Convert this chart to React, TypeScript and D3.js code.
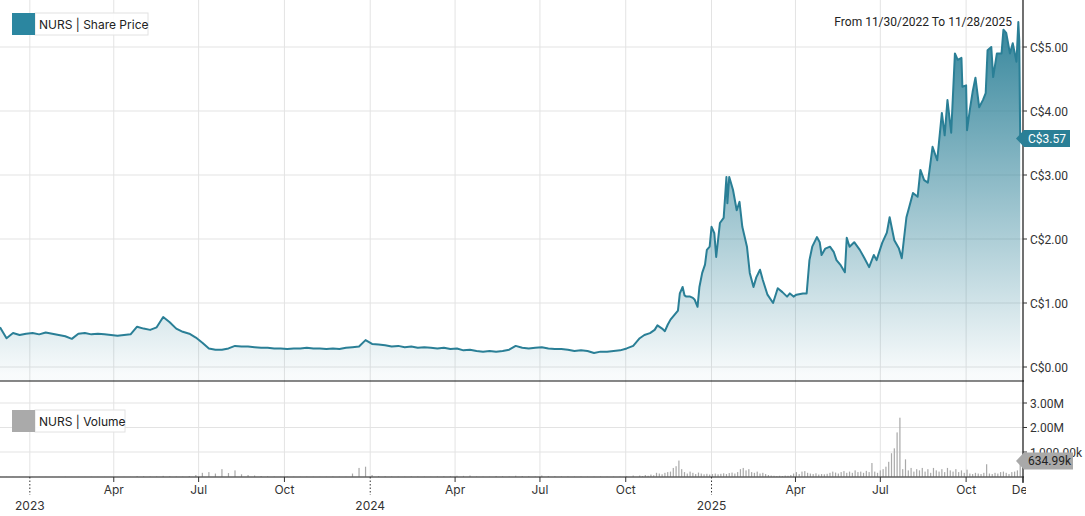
import React from 'react';
import * as d3 from 'd3';

const W = 1085;
const H = 516;

const rangeLabel = 'From 11/30/2022 To 11/28/2025';
const priceLegend = 'NURS | Share Price';
const volumeLegend = 'NURS | Volume';
const lastPriceLabel = 'C$3.57';
const lastPrice = 3.57;
const lastVolumeLabel = '634.99k';
const lastVolumeK = 634.99;

const domainStart = '2022-11-30';
const domainEnd = '2025-12-01';

// weekly closes from 2022-11-30 to 2024-10-09
const weeklyStart = '2022-11-30';
const weeklyPrices = [
  0.62, 0.45, 0.53, 0.5, 0.52, 0.53, 0.51, 0.54, 0.52, 0.5, 0.48, 0.44, 0.52, 0.53, 0.51, 0.52,
  0.51, 0.5, 0.49, 0.5, 0.51, 0.63, 0.6, 0.58, 0.62, 0.78, 0.7, 0.6, 0.55, 0.52, 0.46, 0.38,
  0.29, 0.27, 0.27, 0.29, 0.33, 0.32, 0.32, 0.31, 0.3, 0.3, 0.29, 0.29, 0.28, 0.29, 0.29, 0.3,
  0.29, 0.29, 0.28, 0.29, 0.28, 0.3, 0.31, 0.32, 0.42, 0.36, 0.35, 0.34, 0.32, 0.33, 0.31, 0.32,
  0.3, 0.31, 0.3, 0.29, 0.3, 0.28, 0.29, 0.26, 0.27, 0.25, 0.24, 0.25, 0.24, 0.25, 0.27, 0.33,
  0.3, 0.29, 0.3, 0.31, 0.29, 0.28, 0.28, 0.27, 0.25, 0.26, 0.25, 0.22, 0.24, 0.24, 0.25, 0.26,
  0.29, 0.33,
];

const recentPriceDates = [
  '2024-10-16', '2024-10-21', '2024-10-27', '2024-11-01', '2024-11-04', '2024-11-09', '2024-11-12', '2024-11-15',
  '2024-11-18', '2024-11-22', '2024-11-26', '2024-11-28', '2024-12-01', '2024-12-03', '2024-12-05', '2024-12-09',
  '2024-12-12', '2024-12-14', '2024-12-17', '2024-12-19', '2024-12-22', '2024-12-25', '2024-12-27', '2024-12-30',
  '2025-01-01', '2025-01-04', '2025-01-06', '2025-01-10', '2025-01-14', '2025-01-17', '2025-01-18', '2025-01-20',
  '2025-01-24', '2025-01-28', '2025-01-31', '2025-02-03', '2025-02-08', '2025-02-11', '2025-02-15', '2025-02-18',
  '2025-02-22', '2025-02-25', '2025-03-02', '2025-03-08', '2025-03-13', '2025-03-18', '2025-03-23', '2025-03-26',
  '2025-03-30', '2025-04-02', '2025-04-09', '2025-04-13', '2025-04-16', '2025-04-19', '2025-04-24', '2025-04-27',
  '2025-04-29', '2025-05-03', '2025-05-08', '2025-05-12', '2025-05-15', '2025-05-19', '2025-05-24', '2025-05-26',
  '2025-05-29', '2025-06-03', '2025-06-09', '2025-06-14', '2025-06-19', '2025-06-24', '2025-06-27', '2025-07-03',
  '2025-07-08', '2025-07-11', '2025-07-16', '2025-07-21', '2025-07-24', '2025-07-29', '2025-08-01', '2025-08-05',
  '2025-08-10', '2025-08-13', '2025-08-17', '2025-08-21', '2025-08-26', '2025-08-31', '2025-09-05', '2025-09-08',
  '2025-09-11', '2025-09-15', '2025-09-19', '2025-09-22', '2025-09-26', '2025-09-27', '2025-10-01', '2025-10-02',
  '2025-10-05', '2025-10-08', '2025-10-11', '2025-10-15', '2025-10-19', '2025-10-22', '2025-10-24', '2025-10-28',
  '2025-10-30', '2025-11-03', '2025-11-08', '2025-11-10', '2025-11-13', '2025-11-17', '2025-11-20', '2025-11-24',
  '2025-11-26', '2025-11-27', '2025-11-28',
];
const recentPrices = [
  0.45, 0.5, 0.53, 0.58, 0.65, 0.6, 0.56, 0.66,
  0.74, 0.81, 0.88, 1.15, 1.25, 1.12, 1.1, 1.1,
  1.08, 1.05, 0.94, 1.25, 1.47, 1.6, 1.83, 1.88,
  2.19, 2.09, 1.72, 2.25, 2.33, 2.97, 2.56, 2.97,
  2.77, 2.45, 2.58, 2.19, 1.88, 1.47, 1.25, 1.4,
  1.52, 1.36, 1.13, 1.0, 1.23, 1.17, 1.1, 1.15,
  1.1, 1.13, 1.15, 1.15, 1.67, 1.88, 2.03, 1.95,
  1.75, 1.85, 1.88, 1.8, 1.67, 1.6, 1.48, 2.02,
  1.88, 1.95, 1.83, 1.7, 1.56, 1.75, 1.67, 1.94,
  2.1, 2.34, 1.98, 1.85, 1.7, 2.34, 2.5, 2.72,
  2.66, 3.08, 2.92, 2.88, 3.44, 3.23, 3.97, 3.62,
  4.17, 3.66, 4.9, 4.8, 4.83, 4.38, 4.4, 3.7,
  4.02, 4.3, 4.52, 4.06, 4.17, 4.28, 4.95, 5.0,
  4.53, 4.9, 4.9, 5.27, 5.22, 4.9, 5.06, 4.77,
  5.39, 5.1, 3.57,
];

// volume in thousands, weekly from 2022-11-30
const weeklyVolumesK = [
  5, 3, 4, 2, 3, 2, 4, 3, 2, 3, 5, 2, 3, 2, 4, 3, 2, 3, 2, 4, 3, 20, 15, 10,
  12, 25, 15, 10, 8, 20, 60, 150,
  180, 120, 300, 140, 250, 90, 60,
  40, 20, 15, 10, 8, 12, 6,
  5, 8, 6, 4, 5, 10, 6, 5,
  120, 350, 400, 60,
  20, 15, 10, 8, 6, 12, 10, 8, 6, 10, 15, 20, 30,
  25, 40, 10, 8, 6, 20, 15, 10, 30, 20,
  15, 10, 40, 20, 15, 10, 12, 8, 10, 6, 8, 10, 6, 8, 10, 20, 40,
];
// volume in thousands, every 3 days from 2024-10-16
const recentVolumeStart = '2024-10-16';
const recentVolumesK = [
  40, 20, 60, 30, 80, 50, 150, 120, 90, 150, 180, 200, 350, 420, 650, 300, 180, 120, 200, 150,
  100, 160, 120, 90, 110, 80, 100, 120, 90, 110, 130, 100, 140, 160, 120, 180, 300, 350, 250, 300,
  180, 150, 200, 120, 150, 100, 60, 40, 30, 20, 30, 20, 40, 30, 60, 120, 180, 100, 200, 220,
  150, 120, 100, 130, 80, 100, 90, 110, 150, 200, 160, 120, 180, 220, 150, 200, 150, 250, 180, 200,
  150, 230, 180, 550, 200, 150, 250, 300, 400, 600, 950, 1150, 1800, 2400, 300, 700, 250, 350, 200, 300,
  250, 350, 200, 300, 150, 350, 250, 200, 300, 180, 350, 250, 200, 300, 180, 250, 150, 280, 120, 100,
  150, 120, 100, 150, 500, 120, 100, 150, 120, 180, 200, 150, 100, 180, 200, 250, 635,
];

const priceTicks = [0, 1, 2, 3, 4, 5];
const volumeTicksM = [1, 2, 3];
const volumeTickLabels = ['1,000.00k', '2.00M', '3.00M'];
const quarterMonths = ['Apr', 'Jul', 'Oct'];

const parse = d3.utcParse('%Y-%m-%d');

const TEAL = '#2a7f96';

export default function App() {
  const plotRight = 1023;
  const priceTop = 0;
  const priceBottom = 381;
  const volBottom = 477;

  const x = d3.scaleTime().domain([parse(domainStart)!, parse(domainEnd)!]).range([0, plotRight]);
  const y = d3.scaleLinear().domain([0, 5]).range([367, 47]);
  const yv = d3.scaleLinear().domain([0, 3]).range([476.5, 403]);

  const wStart = parse(weeklyStart)!;
  const priceData: { d: Date; v: number }[] = [
    ...weeklyPrices.map((v, i) => ({ d: d3.utcDay.offset(wStart, 7 * i), v })),
    ...recentPrices.map((v, i) => ({ d: parse(recentPriceDates[i])!, v })),
  ];
  const rvStart = parse(recentVolumeStart)!;
  const volData: { d: Date; v: number }[] = [
    ...weeklyVolumesK.map((v, i) => ({ d: d3.utcDay.offset(wStart, 7 * i), v })),
    ...recentVolumesK.map((v, i) => ({ d: d3.utcDay.offset(rvStart, 3 * i), v })),
  ];

  const line = d3.line<{ d: Date; v: number }>().x((p) => x(p.d)).y((p) => y(p.v));
  const area = d3
    .area<{ d: Date; v: number }>()
    .x((p) => x(p.d))
    .y0(priceBottom)
    .y1((p) => y(p.v));

  const gridTicks = x.ticks(d3.utcMonth.every(3)!);
  const allTicks = [...gridTicks, parse('2025-12-01')!];

  const yLast = y(lastPrice);
  const yvLast = yv(lastVolumeK / 1000);

  const axisFont = 'Roboto, sans-serif';
  const labelFont = 'Inter, "Noto Sans", sans-serif';

  return (
    <svg width={W} height={H} style={{ position: 'absolute', left: 0, top: 0, background: '#fff' }}>
      <defs>
        <linearGradient id="areaGrad" gradientUnits="userSpaceOnUse" x1={0} y1={20} x2={0} y2={375}>
          <stop offset="0" stopColor={TEAL} stopOpacity={0.95} />
          <stop offset="1" stopColor={TEAL} stopOpacity={0.03} />
        </linearGradient>
        <clipPath id="plotClip">
          <rect x={0} y={priceTop} width={plotRight} height={priceBottom - priceTop} />
        </clipPath>
        <clipPath id="labelClip">
          <rect x={0} y={0} width={1026} height={H} />
        </clipPath>
      </defs>

      {/* grid: vertical */}
      {gridTicks.map((t, i) => (
        <line key={'vg' + i} x1={x(t)} x2={x(t)} y1={0} y2={volBottom} stroke="#e3e3e3" strokeWidth={1} />
      ))}
      {/* grid: horizontal price */}
      {priceTicks.map((t) => (
        <line key={'hg' + t} x1={0} x2={plotRight} y1={y(t)} y2={y(t)} stroke="#e3e3e3" strokeWidth={1} />
      ))}
      {/* grid: horizontal volume */}
      {volumeTicksM.map((t) => (
        <line key={'vhg' + t} x1={0} x2={plotRight} y1={yv(t)} y2={yv(t)} stroke="#e3e3e3" strokeWidth={1} />
      ))}

      {/* price area and line */}
      <g clipPath="url(#plotClip)">
        <path d={area(priceData) || ''} fill="url(#areaGrad)" />
        <path d={line(priceData) || ''} fill="none" stroke={TEAL} strokeWidth={2} strokeLinejoin="round" />
      </g>

      {/* volume bars */}
      {volData.map((p, i) => {
        const top = yv(p.v / 1000);
        return (
          <rect
            key={'vb' + i}
            x={x(p.d) - 0.6}
            y={top}
            width={1.2}
            height={Math.max(0, 476.5 - top)}
            fill="#a9a9a9"
          />
        );
      })}

      {/* frame lines */}
      <line x1={0} x2={plotRight + 1} y1={priceBottom} y2={priceBottom} stroke="#111" strokeWidth={1.2} />
      <line x1={0} x2={plotRight + 1} y1={volBottom} y2={volBottom} stroke="#111" strokeWidth={1.2} />
      <line x1={plotRight} x2={plotRight} y1={0} y2={volBottom + 6} stroke="#111" strokeWidth={1.2} />

      {/* right price axis */}
      {priceTicks.map((t) => (
        <g key={'pt' + t}>
          <line x1={plotRight} x2={plotRight + 4} y1={y(t)} y2={y(t)} stroke="#333" />
          <text x={plotRight + 7} y={y(t) + 4.5} fontSize={12} fontFamily={axisFont} fill="#333">
            {'C$' + t.toFixed(2)}
          </text>
        </g>
      ))}
      {/* right volume axis */}
      {volumeTicksM.map((t, i) => (
        <g key={'vt' + t}>
          <line x1={plotRight} x2={plotRight + 4} y1={yv(t)} y2={yv(t)} stroke="#333" />
          <text x={plotRight + 7} y={yv(t) + 4.5} fontSize={12} fontFamily={axisFont} fill="#333">
            {volumeTickLabels[i]}
          </text>
        </g>
      ))}

      {/* last price marker */}
      <path
        d={`M${plotRight - 7},${yLast} L${plotRight + 1},${yLast - 8.5} L${plotRight + 47},${yLast - 8.5} L${plotRight + 47},${yLast + 8.5} L${plotRight + 1},${yLast + 8.5} Z`}
        fill={TEAL}
      />
      <text x={plotRight + 5} y={yLast + 4.5} fontSize={12} fontFamily={axisFont} fill="#fff">
        {lastPriceLabel}
      </text>

      {/* last volume marker */}
      <path
        d={`M${plotRight - 7},${yvLast} L${plotRight + 1},${yvLast - 8.5} L${plotRight + 50},${yvLast - 8.5} L${plotRight + 50},${yvLast + 8.5} L${plotRight + 1},${yvLast + 8.5} Z`}
        fill="#a9a9a9"
      />
      <text x={plotRight + 5} y={yvLast + 4.5} fontSize={12} fontFamily={axisFont} fill="#222">
        {lastVolumeLabel}
      </text>

      {/* x axis */}
      <g clipPath="url(#labelClip)">
        {allTicks.map((t, i) => {
          const isYear = t.getUTCMonth() === 0;
          const xp = x(t);
          const label = isYear ? '' : t.getUTCMonth() === 11 ? 'Dec' : quarterMonths[t.getUTCMonth() / 3 - 1];
          return (
            <g key={'xt' + i}>
              {isYear ? (
                <line x1={xp} x2={xp} y1={volBottom} y2={volBottom + 18} stroke="#333" strokeDasharray="1.5,2" />
              ) : (
                <line x1={xp} x2={xp} y1={volBottom} y2={volBottom + 5} stroke="#333" />
              )}
              {label && (
                <text x={xp} y={494} textAnchor="middle" fontSize={12} fontFamily={labelFont} fill="#333">
                  {label}
                </text>
              )}
              {isYear && (
                <text x={xp} y={510} textAnchor="middle" fontSize={12} fontFamily={labelFont} fill="#333">
                  {String(t.getUTCFullYear())}
                </text>
              )}
            </g>
          );
        })}
      </g>

      {/* legends */}
      <g>
        <rect x={35} y={13} width={113} height={22} fill="#fff" fillOpacity={0.9} stroke="#e2e2e2" />
        <rect x={12} y={13} width={23} height={22} fill="#2b86a0" />
        <text x={39} y={29} fontSize={12} fontFamily={labelFont} fill="#222">
          {priceLegend}
        </text>
      </g>
      <g>
        <rect x={35} y={410} width={90} height={22} fill="#fff" fillOpacity={0.9} stroke="#e2e2e2" />
        <rect x={12} y={410} width={23} height={22} fill="#aaaaaa" />
        <text x={39} y={426} fontSize={12} fontFamily={labelFont} fill="#222">
          {volumeLegend}
        </text>
      </g>

      <text x={1012} y={26} textAnchor="end" fontSize={12} fontFamily={axisFont} fill="#222">
        {rangeLabel}
      </text>
    </svg>
  );
}
